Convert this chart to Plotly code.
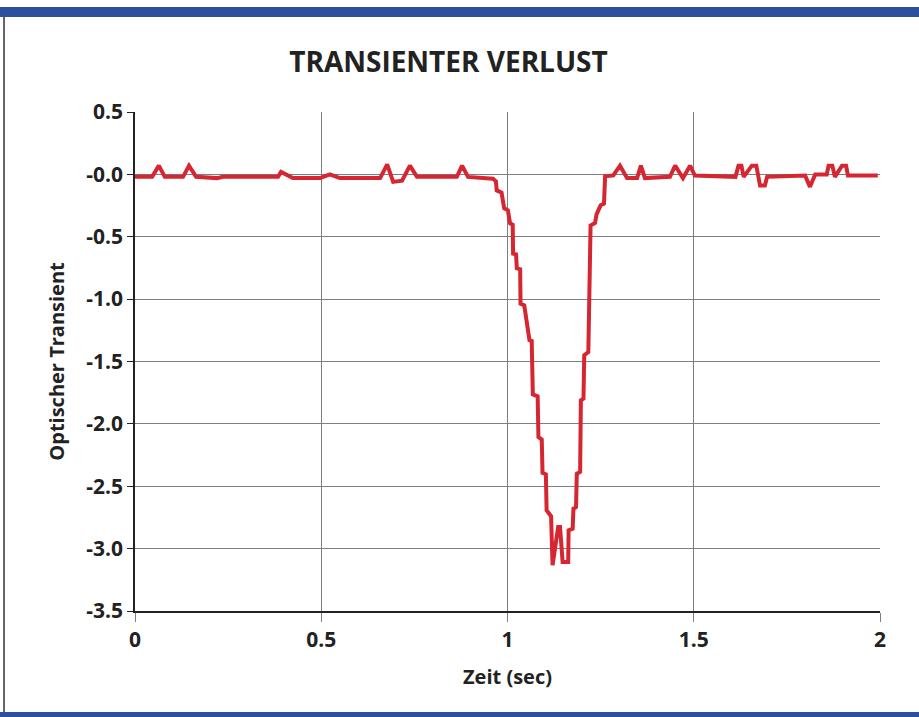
import plotly.graph_objects as go

# Time (s) and optical transient values
zeit = [0.0, 0.046, 0.064, 0.08, 0.129, 0.145, 0.164, 0.22, 0.236, 0.384, 0.392, 0.424,
        0.497, 0.523, 0.55, 0.658, 0.677, 0.693, 0.717, 0.738, 0.757, 0.864, 0.878, 0.894,
        0.961, 0.969, 0.971, 0.984, 0.991, 1.001, 1.007, 1.014, 1.015, 1.023, 1.025, 1.034,
        1.035, 1.045, 1.059, 1.065, 1.068, 1.081, 1.083, 1.092, 1.094, 1.103, 1.105, 1.117,
        1.121, 1.136, 1.141, 1.148, 1.163, 1.164, 1.175, 1.177, 1.184, 1.186, 1.195, 1.197,
        1.204, 1.206, 1.217, 1.223, 1.235, 1.239, 1.25, 1.259, 1.262, 1.284, 1.302, 1.321,
        1.348, 1.358, 1.369, 1.436, 1.45, 1.471, 1.49, 1.503, 1.612, 1.62, 1.628, 1.634,
        1.656, 1.668, 1.678, 1.691, 1.697, 1.799, 1.812, 1.826, 1.857, 1.862, 1.872, 1.879,
        1.898, 1.909, 1.914, 1.994]
transient = [-0.02, -0.02, 0.07, -0.02, -0.02, 0.07, -0.02, -0.03, -0.02, -0.02, 0.02, -0.03,
             -0.03, 0.0, -0.03, -0.03, 0.08, -0.06, -0.05, 0.07, -0.02, -0.02, 0.07, -0.02,
             -0.035, -0.056, -0.128, -0.147, -0.272, -0.288, -0.393, -0.403, -0.636, -0.641, -0.753, -0.761,
             -1.036, -1.05, -1.33, -1.335, -1.763, -1.779, -2.105, -2.126, -2.393, -2.404, -2.692, -2.74,
             -3.133, -2.826, -2.826, -3.107, -3.107, -2.853, -2.84, -2.68, -2.667, -2.4, -2.385, -1.811,
             -1.797, -1.45, -1.424, -0.409, -0.39, -0.321, -0.248, -0.235, -0.016, -0.008, 0.07, -0.03,
             -0.03, 0.07, -0.03, -0.02, 0.07, -0.03, 0.07, -0.01, -0.02, 0.07, 0.07, -0.02,
             0.07, 0.07, -0.09, -0.09, -0.02, -0.01, -0.1, 0.0, 0.0, 0.07, 0.07, -0.02,
             0.07, 0.07, -0.01, -0.01]

x_ticks = [0, 0.5, 1, 1.5, 2]
x_tick_labels = ["0", "0.5", "1", "1.5", "2"]
y_ticks = [0.5, 0, -0.5, -1.0, -1.5, -2.0, -2.5, -3.0, -3.5]
y_tick_labels = ["0.5", "-0.0", "-0.5", "-1.0", "-1.5", "-2.0", "-2.5", "-3.0", "-3.5"]

FONT = "Open Sans"
TXT = "#222222"

fig = go.Figure()
fig.add_trace(go.Scatter(x=zeit, y=transient, mode="lines",
                         line=dict(color="#d62631", width=4), showlegend=False,
                         hoverinfo="skip"))

fig.update_layout(
    width=919, height=717,
    margin=dict(l=135, r=39, t=112, b=106),
    paper_bgcolor="white", plot_bgcolor="white",
    title=dict(text="<b>TRANSIENTER VERLUST</b>", x=0.488, xanchor="center",
               y=0.913, yanchor="middle",
               font=dict(family=FONT, size=28, color=TXT)),
    xaxis=dict(range=[0, 2], tickvals=x_ticks, ticktext=x_tick_labels,
               showgrid=True, gridcolor="#7e7e7e", gridwidth=1, zeroline=False,
               showline=True, linecolor="#222222", linewidth=2,
               ticks="outside", ticklen=9, tickcolor="#7e7e7e", tickwidth=1,
               tickfont=dict(family=FONT, size=21, color=TXT, weight="bold"),
               title=dict(text="<b>Zeit (sec)</b>", standoff=18,
                          font=dict(family=FONT, size=20, color=TXT))),
    yaxis=dict(range=[-3.5, 0.5], tickvals=y_ticks, ticktext=y_tick_labels,
               showgrid=True, gridcolor="#7e7e7e", gridwidth=1, zeroline=False,
               showline=True, linecolor="#222222", linewidth=1.5,
               ticks="outside", ticklen=6, tickcolor="#222222", tickwidth=1,
               tickfont=dict(family=FONT, size=21, color=TXT, weight="bold"),
               title=dict(text="<b>Optischer Transient</b>", standoff=16,
                          font=dict(family=FONT, size=20, color=TXT))),
    shapes=[
        dict(type="rect", xref="paper", yref="paper", x0=-0.19, x1=1.06,
             y0=1.1904, y1=1.2104, fillcolor="#2c4f9e", line=dict(width=0), layer="above"),
        dict(type="rect", xref="paper", yref="paper", x0=-0.19, x1=1.06,
             y0=-0.2144, y1=-0.2024, fillcolor="#2c4f9e", line=dict(width=0), layer="above"),
        dict(type="line", xref="paper", yref="paper", x0=-0.1758, x1=-0.1758,
             y0=-0.2024, y1=1.1904, line=dict(color="#333333", width=1.5)),
    ],
)

fig.write_html("out.html", config={"displayModeBar": False},
               post_script="document.body.style.margin='0';document.body.style.padding='0';document.body.style.overflow='hidden';")
